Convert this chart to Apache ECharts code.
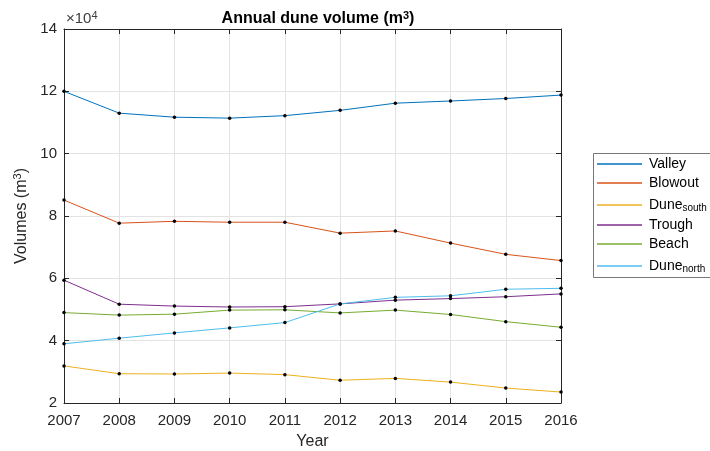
<!DOCTYPE html>
<html>
<head>
<meta charset="utf-8">
<script src="https://cdn.jsdelivr.net/npm/echarts@6/dist/echarts.min.js"></script>
<style>
  html, body { margin: 0; padding: 0; background: #ffffff; }
  #chart { width: 710px; height: 451px; }
</style>
</head>
<body>
<div id="chart"></div>
<script>
// Survey years
const years = [2007, 2008, 2009, 2010, 2011, 2012, 2013, 2014, 2015, 2016];

// Annual volumes per zone (m^3)
const valley    = [120000, 113000, 111700, 111400, 112200, 113900, 116200, 116900, 117700, 118800];
const blowout   = [85100, 77700, 78300, 78000, 78000, 74500, 75200, 71300, 67700, 65700];
const duneSouth = [31900, 29400, 29300, 29600, 29100, 27300, 27900, 26700, 24800, 23500];
const trough    = [59400, 51700, 51100, 50800, 50900, 51800, 53000, 53500, 54100, 55000];
const beach     = [49000, 48200, 48500, 49800, 49900, 48900, 49800, 48400, 46100, 44300];
const duneNorth = [39000, 40800, 42500, 44100, 45800, 51800, 53900, 54400, 56500, 56800];

const seriesNames = ['Valley', 'Blowout', 'Dune south', 'Trough', 'Beach', 'Dune north'];
const seriesData = [valley, blowout, duneSouth, trough, beach, duneNorth];
const colors = ['#0072BD', '#D95319', '#EDB120', '#7E2F8E', '#77AC30', '#4DBEEE'];

const FONT = '"Liberation Sans", Arial, Helvetica, sans-serif';
const AXIS_COLOR = '#262626';

const chart = echarts.init(document.getElementById('chart'), null, { renderer: 'canvas' });

const series = seriesNames.map((name, i) => ({
  name: name,
  type: 'line',
  data: years.map((y, k) => [y, seriesData[i][k]]),
  symbol: 'circle',
  symbolSize: 3.5,
  showSymbol: true,
  lineStyle: { color: colors[i], width: 1 },
  itemStyle: { color: '#000000' },
  emphasis: { disabled: true },
  animation: false
}));

const option = {
  animation: false,
  backgroundColor: '#ffffff',
  title: {
    text: 'Annual dune volume (m{sup|3})',
    left: 313,
    top: 5,
    textAlign: 'center',
    textStyle: {
      fontFamily: FONT, fontSize: 16, fontWeight: 'bold', color: '#000000',
      rich: {
        sup: { fontFamily: FONT, fontSize: 11, fontWeight: 'bold', color: '#000000', verticalAlign: 'top', padding: [0, 0, 7, 0] }
      }
    }
  },
  grid: { left: 64, top: 29, right: 149, bottom: 48, containLabel: false, outerBoundsMode: 'none' },
  legend: {
    orient: 'vertical',
    left: 593,
    top: 153,
    padding: [4, 4, 4, 4],
    itemGap: 5,
    itemWidth: 45,
    itemHeight: 1.5,
    borderWidth: 0,
    z: 10,
    data: seriesNames.map((n, i) => ({ name: n, icon: 'rect', itemStyle: { color: colors[i] } })),
    formatter: function (name) {
      const parts = name.split(' ');
      if (parts.length === 2) return '{b|' + parts[0] + '}{s|' + parts[1] + '}';
      return '{b|' + name + '}';
    },
    textStyle: {
      fontFamily: FONT, fontSize: 14, color: '#000000',
      rich: {
        b: { fontFamily: FONT, fontSize: 14, color: '#000000', lineHeight: 16, padding: [0, 0, 0, 2] },
        s: { fontFamily: FONT, fontSize: 10, color: '#000000', verticalAlign: 'bottom', padding: [8, 0, 0, 0], lineHeight: 16 }
      }
    },
    selectedMode: false
  },
  xAxis: [
    {
      type: 'value',
      min: 2007, max: 2016, interval: 1,
      name: 'Year',
      nameLocation: 'middle',
      nameGap: 31,
      nameTextStyle: { fontFamily: FONT, fontSize: 16, color: AXIS_COLOR },
      axisLine: { show: true, onZero: false, lineStyle: { color: AXIS_COLOR, width: 1 } },
      axisTick: { show: true, inside: true, length: 5, lineStyle: { color: AXIS_COLOR } },
      axisLabel: { fontFamily: FONT, fontSize: 15, color: AXIS_COLOR, margin: 10, formatter: v => String(v) },
      splitLine: { show: true, lineStyle: { color: '#e3e3e3', width: 1 } }
    },
    {
      type: 'value', position: 'top',
      min: 2007, max: 2016, interval: 1,
      axisLine: { show: true, onZero: false, lineStyle: { color: AXIS_COLOR, width: 1 } },
      axisTick: { show: true, inside: true, length: 5, lineStyle: { color: AXIS_COLOR } },
      axisLabel: { show: false },
      splitLine: { show: false }
    }
  ],
  yAxis: [
    {
      type: 'value',
      min: 20000, max: 140000, interval: 20000,
      name: 'Volumes (m{sup|3})',
      nameLocation: 'middle',
      nameGap: 32,
      nameRotate: 90,
      nameTextStyle: {
        fontFamily: FONT, fontSize: 16, color: AXIS_COLOR,
        rich: { sup: { fontFamily: FONT, fontSize: 11, color: AXIS_COLOR, verticalAlign: 'top', padding: [0, 0, 7, 0] } }
      },
      axisLine: { show: true, onZero: false, lineStyle: { color: AXIS_COLOR, width: 1 } },
      axisTick: { show: true, inside: true, length: 5, lineStyle: { color: AXIS_COLOR } },
      axisLabel: { fontFamily: FONT, fontSize: 15, color: AXIS_COLOR, margin: 7, formatter: v => String(v / 10000) },
      splitLine: { show: true, lineStyle: { color: '#e3e3e3', width: 1 } }
    },
    {
      type: 'value', position: 'right',
      min: 20000, max: 140000, interval: 20000,
      axisLine: { show: true, onZero: false, lineStyle: { color: AXIS_COLOR, width: 1 } },
      axisTick: { show: true, inside: true, length: 5, lineStyle: { color: AXIS_COLOR } },
      axisLabel: { show: false },
      splitLine: { show: false }
    }
  ],
  graphic: [
    {
      // legend frame, running off the right edge of the page
      type: 'rect',
      z: 5,
      shape: { x: 593.5, y: 153.5, width: 200, height: 124 },
      style: { fill: '#ffffff', stroke: '#777777', lineWidth: 1 }
    },
    {
      type: 'text',
      left: 66,
      top: 10,
      style: {
        text: '×10{sup|4}',
        font: '15px ' + FONT,
        fill: '#404040',
        rich: { sup: { fontFamily: FONT, fontSize: 11, fill: '#404040', verticalAlign: 'top', padding: [0, 0, 7, 0] } }
      }
    }
  ],
  series: series
};

chart.setOption(option);
</script>
</body>
</html>
